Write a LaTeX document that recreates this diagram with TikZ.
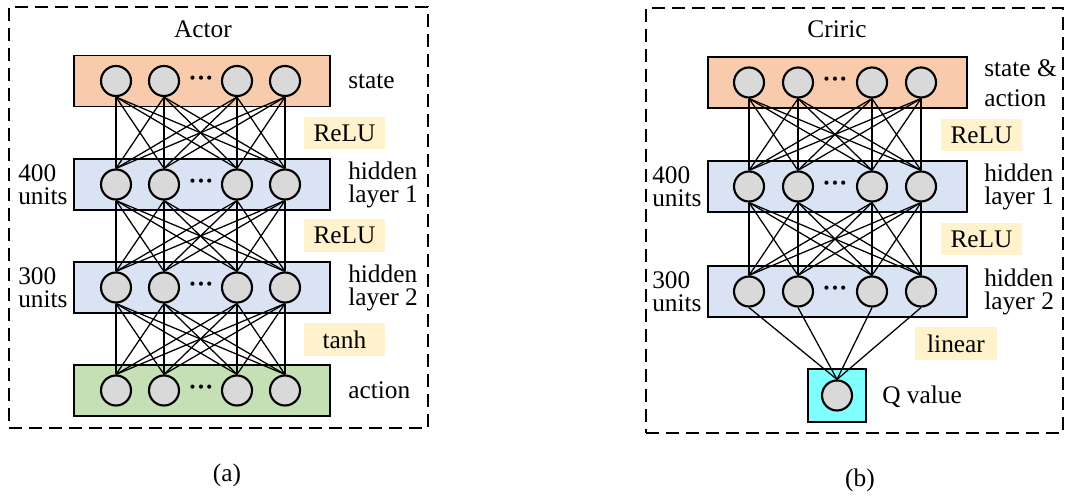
\documentclass[tikz,border=0pt]{standalone}
\usepackage{fontspec}
\setmainfont{Liberation Serif}
\definecolor{stateFill}{HTML}{F8CBAD}
\definecolor{hiddenFill}{HTML}{DAE3F3}
\definecolor{actionFill}{HTML}{C5E0B4}
\definecolor{actFill}{HTML}{FFF2CC}
\definecolor{qFill}{HTML}{80FFFF}
\definecolor{unitFill}{HTML}{D9D9D9}
\begin{document}
\begin{tikzpicture}[x=0.75pt,y=-0.75pt,
  font=\fontsize{19}{17.25}\selectfont,
  panel/.style={draw, line width=1.1pt, dash pattern=on 9.75pt off 5.25pt},
  layerbox/.style={draw, line width=1.1pt, minimum height=38.25pt, inner sep=0},
  unit/.style={circle, draw, line width=1.6pt, fill=unitFill, minimum size=22.5pt, inner sep=0},
  dots/.style={font=\fontsize{19}{19}\selectfont\bfseries, inner sep=0},
  actbox/.style={fill=actFill, inner sep=0, minimum width=61pt, minimum height=24.5pt},
  link/.style={line width=0.95pt},
  sidetext/.style={align=left, anchor=west, inner sep=0},
]
\useasboundingbox (0,0) rectangle (1066,498);

% ---------------- Actor network ----------------
\node[panel, minimum width=314.25pt, minimum height=315.75pt] (actorPanel) at (218.5,217.5) {};
\node (actorTitle) at (203,29) {Actor};

\node[layerbox, fill=stateFill,  minimum width=192pt] (aS)  at (202,81)  {};
\node[layerbox, fill=hiddenFill, minimum width=192pt] (aH1) at (202,184.5) {};
\node[layerbox, fill=hiddenFill, minimum width=192pt] (aH2) at (202,287.5) {};
\node[layerbox, fill=actionFill, minimum width=192pt] (aA)  at (202,390.5) {};

\foreach \L/\y in {S/81, H1/184.5, H2/287.5, A/390.5}{
  \foreach \k/\x in {1/116, 2/164, 3/237, 4/285}
    \node[unit] (a\L\k) at (\x,\y) {};
  \node[dots] (a\L dots) at (201,\y) {···};
}

\foreach \P/\N in {S/H1, H1/H2, H2/A}
  \foreach \i in {1,...,4}
    \foreach \j in {1,...,4}
      \draw[link] (a\P\i.south) -- (a\N\j.north);

\node[sidetext] (aSlab)  at (348,81)    {state};
\node[sidetext] (aH1lab) at (348,184.5) {hidden\\layer 1};
\node[sidetext] (aH2lab) at (348,287.5) {hidden\\layer 2};
\node[sidetext] (aAlab)  at (348,390.5) {action};

\node[sidetext] (aH1units) at (18,184.5) {400\\units};
\node[sidetext] (aH2units) at (18,287.5) {300\\units};

\node[actbox] (aAct1) at (344.5,133)   {ReLU};
\node[actbox] (aAct2) at (344.5,235.5) {ReLU};
\node[actbox] (aAct3) at (344.5,339.5) {tanh};

\node (capA) at (227,475) {(a)};

% ---------------- Critic network ----------------
\node[panel, minimum width=312.75pt, minimum height=318.75pt] (criticPanel) at (854.5,220.5) {};
\node (criticTitle) at (837,29) {Criric};

\node[layerbox, fill=stateFill,  minimum width=194.25pt] (cS)  at (837.5,82.5)  {};
\node[layerbox, fill=hiddenFill, minimum width=194.25pt] (cH1) at (837.5,186.5) {};
\node[layerbox, fill=hiddenFill, minimum width=194.25pt] (cH2) at (837.5,291.5) {};
\node[draw, line width=1.1pt, fill=qFill, minimum width=43.5pt, minimum height=39.75pt, inner sep=0] (cQbox) at (837,395.5) {};

\foreach \L/\y in {S/82.5, H1/186.5, H2/291.5}{
  \foreach \k/\x in {1/749, 2/798, 3/872, 4/921}
    \node[unit] (c\L\k) at (\x,\y) {};
  \node[dots] (c\L dots) at (835,\y) {···};
}
\node[unit] (cQ) at (837,395.5) {};

\foreach \P/\N in {S/H1, H1/H2}
  \foreach \i in {1,...,4}
    \foreach \j in {1,...,4}
      \draw[link] (c\P\i.south) -- (c\N\j.north);
\foreach \i in {1,...,4}
  \draw[link] (cH2\i.south) -- (cQ.north);

\node[sidetext] (cSlab)  at (984,83)    {state \&\\[5pt]action};
\node[sidetext] (cH1lab) at (984,186.5) {hidden\\layer 1};
\node[sidetext] (cH2lab) at (984,291.5) {hidden\\layer 2};
\node[sidetext] (cQlab)  at (882,397)   {Q value};

\node[sidetext] (cH1units) at (652,186.5) {400\\units};
\node[sidetext] (cH2units) at (652,291.5) {300\\units};

\node[actbox] (cAct1) at (981.5,135)   {ReLU};
\node[actbox] (cAct2) at (981.5,239)   {ReLU};
\node[actbox] (cAct3) at (956,343.5)   {linear};

\node (capB) at (860,480) {(b)};
\end{tikzpicture}
\end{document}
